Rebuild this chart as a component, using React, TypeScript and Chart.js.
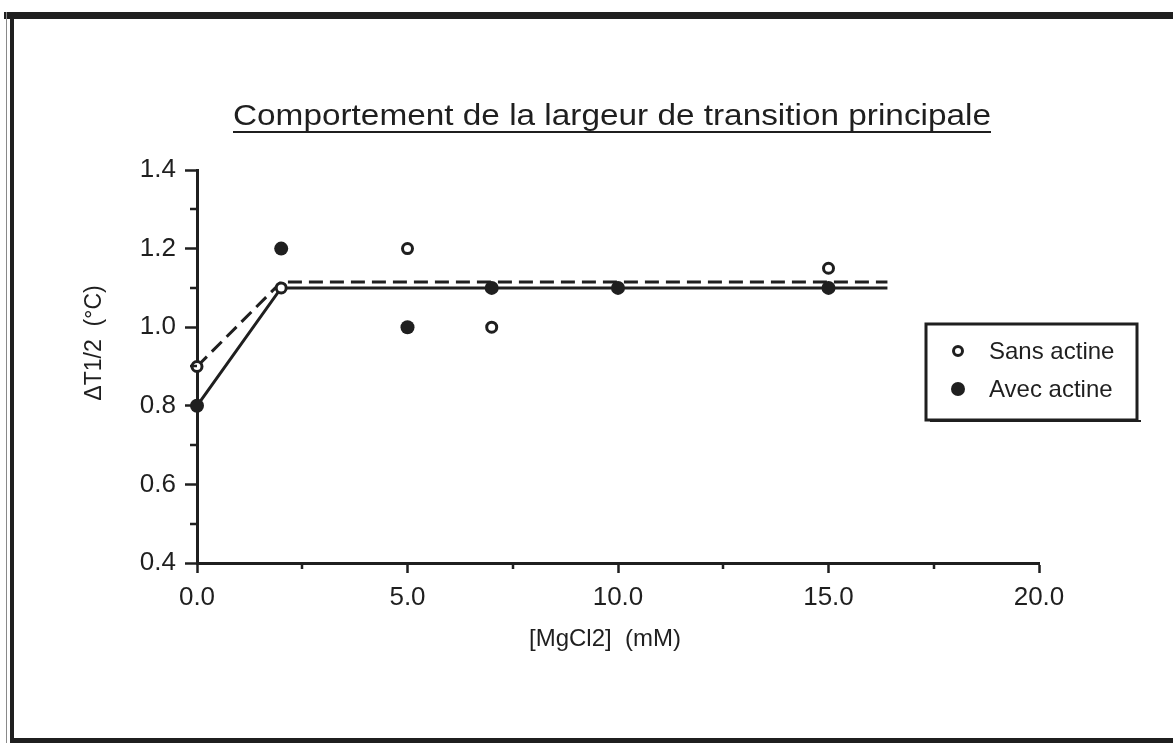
import React, { useEffect, useRef } from "react";
import { Chart, registerables } from "chart.js";

Chart.register(...registerables);

// ---- data ----
const TITLE = "Comportement de la largeur de transition principale";
const X_TITLE = "[MgCl2]  (mM)";
const Y_TITLE = "ΔT1/2  (°C)";
const SERIES_LABELS = ["Sans actine", "Avec actine"];

const X_MIN = 0;
const X_MAX = 20;
const X_STEP = 5;
const X_MINOR = [2.5, 7.5, 12.5, 17.5];
const Y_MIN = 0.4;
const Y_MAX = 1.4;
const Y_STEP = 0.2;
const Y_MINOR = [0.5, 0.7, 0.9, 1.1, 1.3];

const sansX = [0, 2, 5, 7, 15];
const sansY = [0.9, 1.1, 1.2, 1.0, 1.15];
const avecX = [0, 2, 5, 7, 10, 15];
const avecY = [0.8, 1.2, 1.0, 1.1, 1.1, 1.1];

const fitSansX = [0, 2, 16.4];
const fitSansY = [0.9, 1.115, 1.115];
const fitAvecX = [0, 2, 16.4];
const fitAvecY = [0.8, 1.1, 1.1];

const INK = "#1f1f1f";
const FONT = "'Liberation Sans', Arial, Helvetica, sans-serif";

const pts = (xs: number[], ys: number[]) => xs.map((x, i) => ({ x, y: ys[i] }));

const decor = {
  id: "decor",
  beforeDraw(chart: any) {
    const { ctx, width, height } = chart;
    ctx.save();
    ctx.fillStyle = "#ffffff";
    ctx.fillRect(0, 0, width, height);
    // page frame
    ctx.fillStyle = INK;
    ctx.fillRect(4, 12, width - 4, 7);
    ctx.fillRect(10, 12, 4, height - 12);
    ctx.fillStyle = "#8a8a8a";
    ctx.fillRect(6, 12, 1, height - 12);
    ctx.fillStyle = INK;
    ctx.fillRect(10, 738, width - 10, 5);
    ctx.restore();
  },
  afterDraw(chart: any) {
    const { ctx, chartArea } = chart;
    const xs = chart.scales.x;
    const ys = chart.scales.y;
    ctx.save();
    ctx.fillStyle = INK;
    ctx.strokeStyle = INK;

    // title (stretched to the reference width)
    ctx.font = `30px ${FONT}`;
    ctx.textAlign = "center";
    ctx.textBaseline = "alphabetic";
    const cx = 612;
    const targetW = 758;
    const tw = ctx.measureText(TITLE).width;
    const sx = targetW / tw;
    ctx.save();
    ctx.translate(cx, 125);
    ctx.scale(sx, 1);
    ctx.fillText(TITLE, 0, 0);
    ctx.restore();
    ctx.fillRect(cx - targetW / 2, 131, targetW, 2);

    // axis titles
    ctx.font = `24px ${FONT}`;
    ctx.textBaseline = "middle";
    ctx.fillText(X_TITLE, 605, 639);
    ctx.font = `23px ${FONT}`;
    ctx.save();
    ctx.translate(95, 343);
    ctx.rotate(-Math.PI / 2);
    ctx.fillText(Y_TITLE, 0, 0);
    ctx.restore();

    // minor ticks
    ctx.lineWidth = 2.5;
    ctx.beginPath();
    for (const v of Y_MINOR) {
      const py = Math.round(ys.getPixelForValue(v));
      ctx.moveTo(chartArea.left - 7, py);
      ctx.lineTo(chartArea.left, py);
    }
    for (const v of X_MINOR) {
      const px = Math.round(xs.getPixelForValue(v));
      ctx.moveTo(px, chartArea.bottom);
      ctx.lineTo(px, chartArea.bottom + 6);
    }
    ctx.stroke();

    // legend
    const bx = 926, by = 324, bw = 211, bh = 96;
    ctx.lineWidth = 3;
    ctx.strokeRect(bx, by, bw, bh);
    ctx.fillRect(bx + 4, by + bh, bw, 2);
    ctx.font = `24px ${FONT}`;
    ctx.textAlign = "left";
    ctx.textBaseline = "middle";
    // open marker
    ctx.lineWidth = 3;
    ctx.beginPath();
    ctx.arc(958, 351, 4.5, 0, Math.PI * 2);
    ctx.stroke();
    ctx.fillText(SERIES_LABELS[0], 989, 352);
    // filled marker
    ctx.beginPath();
    ctx.arc(958, 389, 7, 0, Math.PI * 2);
    ctx.fill();
    ctx.fillText(SERIES_LABELS[1], 989, 390);
    ctx.restore();
  },
};

export default function App() {
  const ref = useRef<HTMLCanvasElement | null>(null);

  useEffect(() => {
    document.body.style.margin = "0";
    const canvas = ref.current;
    if (!canvas) return;
    const tickFont = { family: FONT, size: 26 };
    const chart = new Chart(canvas, {
      type: "scatter",
      data: {
        datasets: [
          {
            label: SERIES_LABELS[0] + " (fit)",
            data: pts(fitSansX, fitSansY),
            showLine: true,
            borderColor: INK,
            borderWidth: 3,
            borderDash: [14, 7],
            pointRadius: 0,
            order: 2,
            clip: false,
          },
          {
            label: SERIES_LABELS[1] + " (fit)",
            data: pts(fitAvecX, fitAvecY),
            showLine: true,
            borderColor: INK,
            borderWidth: 3,
            pointRadius: 0,
            order: 2,
            clip: false,
          },
          {
            label: SERIES_LABELS[0],
            data: pts(sansX, sansY),
            showLine: false,
            pointRadius: 5,
            pointBorderWidth: 3,
            pointBorderColor: INK,
            pointBackgroundColor: "#ffffff",
            order: 1,
            clip: false,
          },
          {
            label: SERIES_LABELS[1],
            data: pts(avecX, avecY),
            showLine: false,
            pointRadius: 7,
            pointBorderWidth: 0,
            pointBorderColor: INK,
            pointBackgroundColor: INK,
            order: 0,
            clip: false,
          },
        ],
      },
      options: {
        responsive: false,
        animation: false,
        layout: { padding: { left: 0, top: 170, right: 134, bottom: 0 } },
        plugins: {
          legend: { display: false },
          tooltip: { enabled: false },
          title: { display: false },
        },
        scales: {
          x: {
            type: "linear",
            min: X_MIN,
            max: X_MAX,
            afterFit: (s: any) => {
              s.height = 180;
            },
            ticks: {
              stepSize: X_STEP,
              color: INK,
              font: tickFont,
              padding: 9,
              maxRotation: 0,
              callback: (v: any) => Number(v).toFixed(1),
            },
            grid: {
              drawOnChartArea: false,
              drawTicks: true,
              tickLength: 10,
              tickWidth: 2.5,
              tickColor: INK,
            },
            border: { display: true, color: INK, width: 3 },
          },
          y: {
            type: "linear",
            min: Y_MIN,
            max: Y_MAX,
            afterFit: (s: any) => {
              s.width = 197;
            },
            ticks: {
              stepSize: Y_STEP,
              color: INK,
              font: tickFont,
              padding: 9,
              callback: (v: any) => Number(v).toFixed(1),
            },
            grid: {
              drawOnChartArea: false,
              drawTicks: true,
              tickLength: 12,
              tickWidth: 2.5,
              tickColor: INK,
            },
            border: { display: true, color: INK, width: 3 },
          },
        },
      },
      plugins: [decor],
    } as any);
    return () => chart.destroy();
  }, []);

  return (
    <div style={{ position: "absolute", left: 0, top: 0, width: 1173, height: 743 }}>
      <canvas ref={ref} width={1173} height={743} style={{ display: "block" }} />
    </div>
  );
}
